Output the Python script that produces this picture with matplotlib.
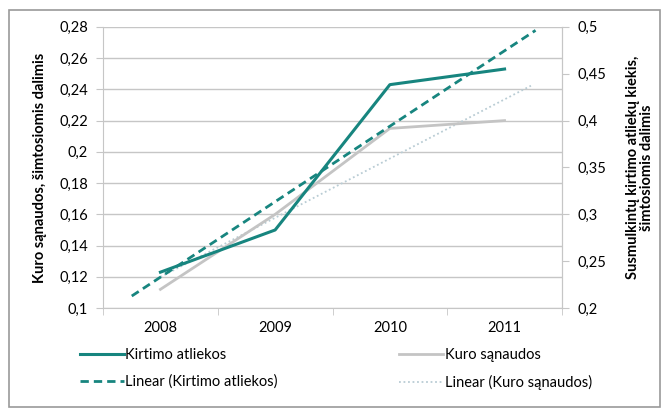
import numpy as np
import matplotlib
matplotlib.use("Agg")
import matplotlib.pyplot as plt
from matplotlib.patches import Rectangle
from matplotlib.lines import Line2D

plt.rcParams['font.family'] = ['Lato', 'DejaVu Sans']

years = ["2008", "2009", "2010", "2011"]
kirtimo = [0.123, 0.150, 0.243, 0.253]
kuro = [0.112, 0.160, 0.215, 0.220]
left_ticks = [0.10, 0.12, 0.14, 0.16, 0.18, 0.20, 0.22, 0.24, 0.26, 0.28]
right_ticks = [0.20, 0.25, 0.30, 0.35, 0.40, 0.45, 0.50]

teal = "#17857f"
grey = "#c4c4c4"
dotc = "#b9ccd4"
gridc = "#c6c6c6"

fig = plt.figure(figsize=(6.65, 4.13), dpi=100)
fig.patches.append(Rectangle((0.014, 0.015), 0.978, 0.96, transform=fig.transFigure,
                             fill=False, edgecolor="#9a9a9a", linewidth=1.2))
ax = fig.add_axes([0.155, 0.254, 0.69, 0.681])
x = np.arange(len(years))

# trendlines (least-squares from data)
def trend(y, back, fwd):
    p = np.polyfit(x, y, 1)
    xx = np.array([x[0] - back, x[-1] + fwd])
    return xx, np.polyval(p, xx)

tx, ty = trend(kirtimo, 0.25, 0.27)
gx, gy = trend(kuro, 0.0, 0.23)

ax.plot(gx, gy, color=dotc, linestyle=(0, (1, 1.5)), linewidth=1.3, zorder=2)
ax.plot(x, kuro, color=grey, linewidth=2.0, zorder=3)
ax.plot(x, kirtimo, color=teal, linewidth=2.2, zorder=4)
ax.plot(tx, ty, color=teal, linestyle=(0, (3, 1.8)), linewidth=2.0, zorder=5)

ax.set_xlim(-0.5, 3.5)
ax.set_ylim(0.1, 0.28)
ax.set_yticks(left_ticks)
ax.set_yticklabels([f"{v:g}".replace('.', ',') for v in left_ticks], fontsize=10.5)
ax.set_xticks(x)
ax.set_xticklabels(years, fontsize=10.5)
ax.set_xticks(np.arange(-0.5, 4.0, 1.0), minor=True)
ax.tick_params(axis='x', which='major', length=0, pad=9)
ax.tick_params(axis='x', which='minor', length=5, color=gridc)
ax.tick_params(axis='y', length=5, color=gridc, pad=6)
ax.grid(axis='y', color=gridc, linewidth=1.0)
ax.set_axisbelow(True)
ax.spines['top'].set_visible(False)
for s in ['left', 'bottom', 'right']:
    ax.spines[s].set_color(gridc)

ax.set_ylabel("Kuro sąnaudos, šimtosiomis dalimis", fontsize=10.5, fontweight='bold', labelpad=9)

ax2 = ax.twinx()
ax2.set_ylim(0.2, 0.5)
ax2.set_yticks(right_ticks)
ax2.set_yticklabels([f"{v:g}".replace('.', ',') for v in right_ticks], fontsize=10.5)
ax2.tick_params(axis='y', length=5, color=gridc, pad=6)
for s in ['top', 'left', 'bottom']:
    ax2.spines[s].set_visible(False)
ax2.spines['right'].set_color(gridc)
ax2.set_ylabel("Susmulkintų kirtimo atliekų kiekis,\nšimtosiomis dalimis", fontsize=10.5,
               fontweight='bold', labelpad=14, linespacing=1.0)

handles = [
    Line2D([], [], color=teal, linewidth=2.2),
    Line2D([], [], color=teal, linestyle=(0, (3, 1.8)), linewidth=2.0),
    Line2D([], [], color=grey, linewidth=2.0),
    Line2D([], [], color=dotc, linestyle=(0, (1, 1.5)), linewidth=1.3),
]
labels = ["Kirtimo atliekos", "Linear (Kirtimo atliekos)", "Kuro sąnaudos", "Linear (Kuro sąnaudos)"]
fig.legend(handles, labels, ncol=2, loc='center', bbox_to_anchor=(0.505, 0.107),
           frameon=False, fontsize=10.5, handlelength=3.0, handletextpad=0.1,
           columnspacing=8.35, labelspacing=0.9)

fig.savefig("out.png", dpi=100)
